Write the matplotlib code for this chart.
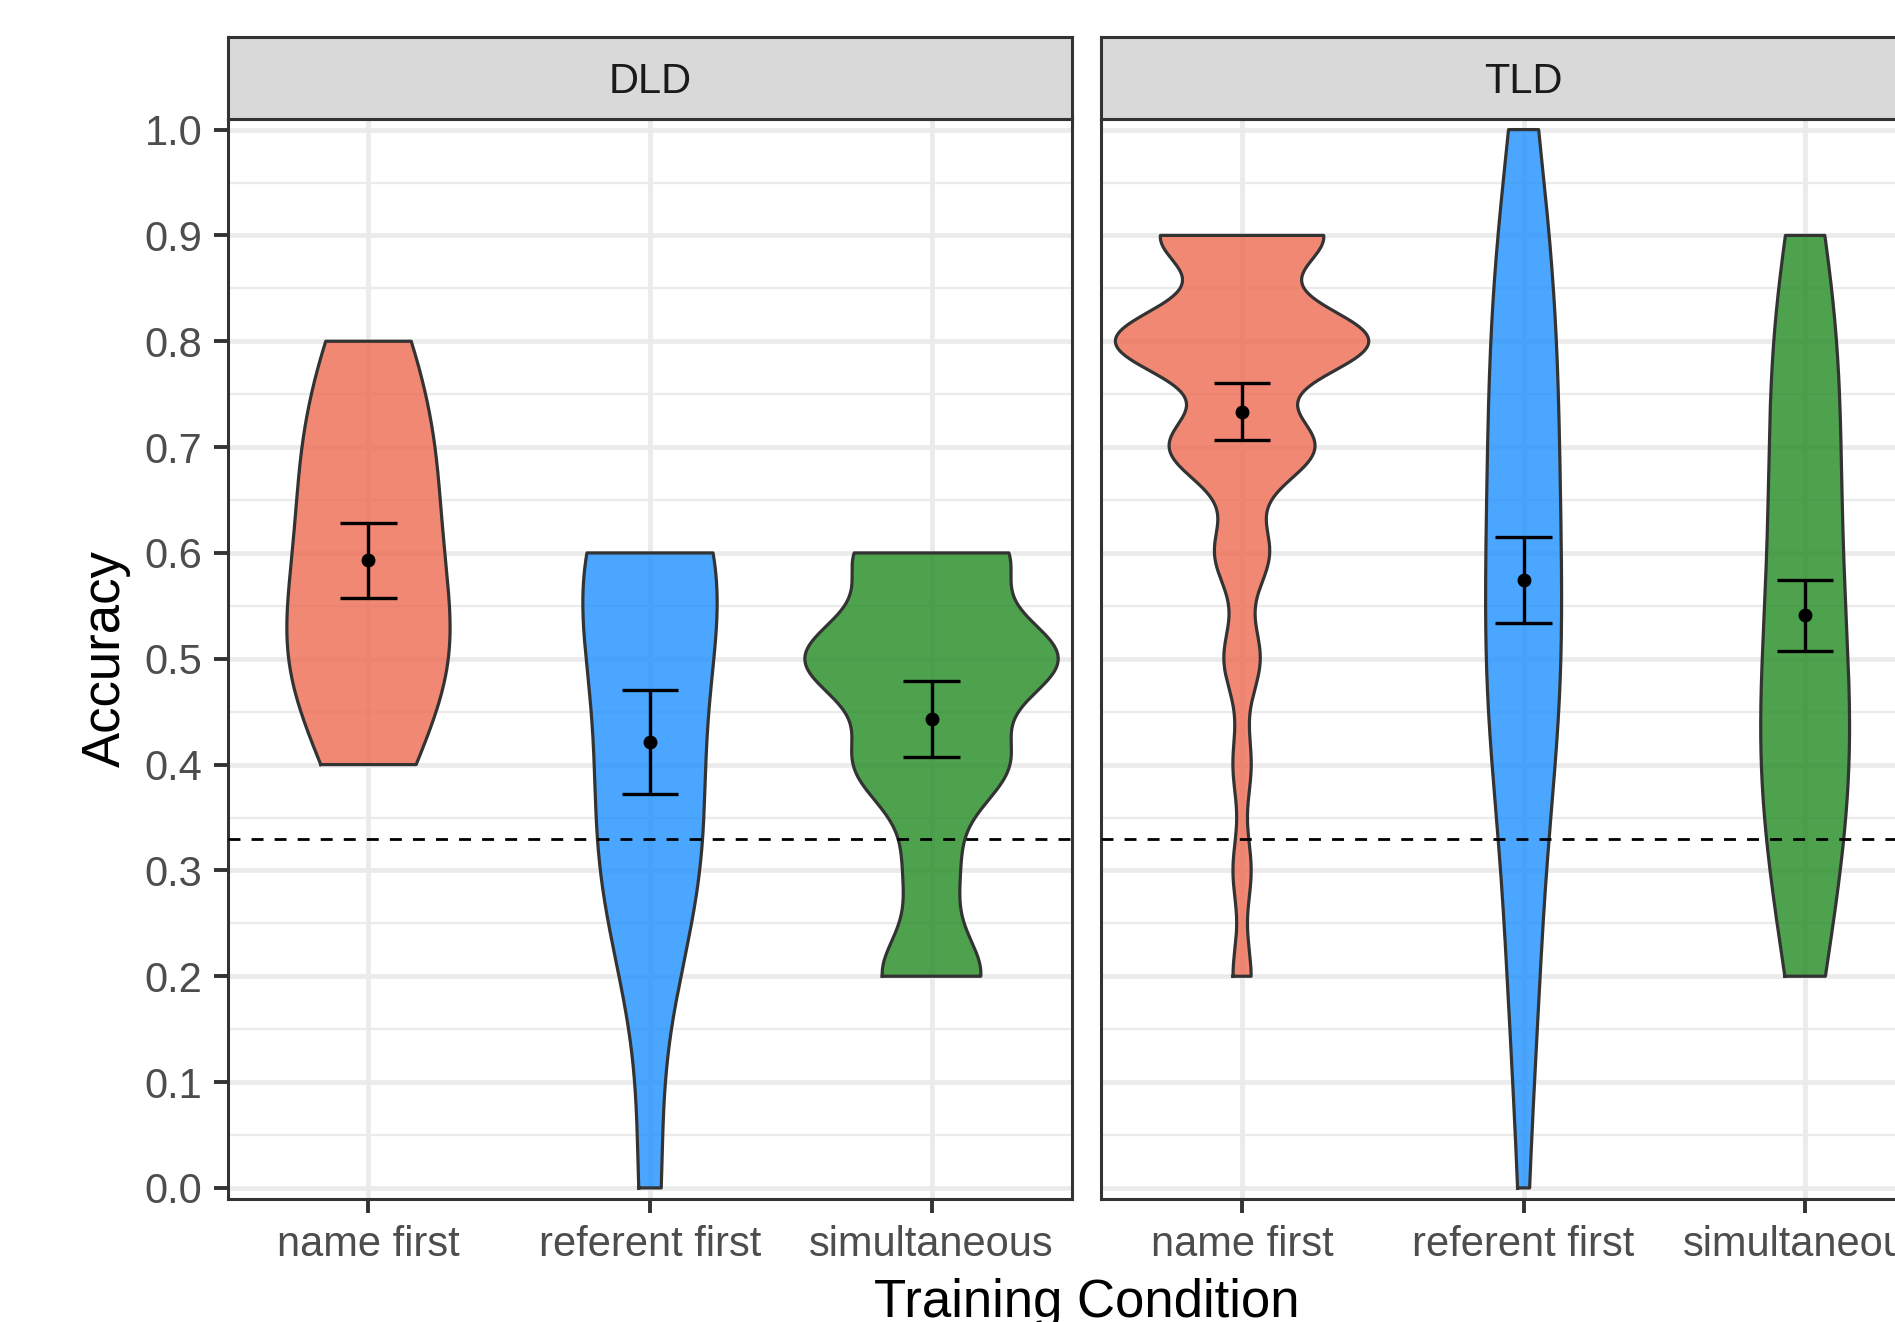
"""Accuracy by training condition: violins with mean +/- SE, DLD and TLD panels."""

import numpy as np
import matplotlib
matplotlib.use("Agg")
import matplotlib.pyplot as plt

LEVELS = [0.0, 0.1, 0.2, 0.3, 0.4, 0.5, 0.6, 0.7, 0.8, 0.9, 1.0]
CONDITIONS = ["name first", "referent first", "simultaneous"]
GROUPS = ["DLD", "TLD"]

# children per accuracy level (one entry per value in LEVELS)
DLD_NAME_FIRST = [0, 0, 0, 0, 2, 4, 3, 3, 2, 0, 0]
DLD_REFERENT_FIRST = [1, 0, 1, 3, 2, 2, 5, 0, 0, 0, 0]
DLD_SIMULTANEOUS = [0, 0, 2, 1, 3, 5, 3, 0, 0, 0, 0]
TLD_NAME_FIRST = [0, 0, 1, 1, 1, 2, 3, 8, 14, 9, 0]
TLD_REFERENT_FIRST = [1, 1, 3, 2, 5, 6, 5, 5, 5, 4, 2]
TLD_SIMULTANEOUS = [0, 0, 3, 5, 7, 6, 5, 5, 5, 3, 0]

COUNTS = {
    "DLD": [DLD_NAME_FIRST, DLD_REFERENT_FIRST, DLD_SIMULTANEOUS],
    "TLD": [TLD_NAME_FIRST, TLD_REFERENT_FIRST, TLD_SIMULTANEOUS],
}

CHANCE = 0.33
Y_TICKS = [0.0, 0.1, 0.2, 0.3, 0.4, 0.5, 0.6, 0.7, 0.8, 0.9, 1.0]
Y_MINOR = [0.05, 0.15, 0.25, 0.35, 0.45, 0.55, 0.65, 0.75, 0.85, 0.95]

COLORS = {
    "name first": "#EE6A50",
    "referent first": "#1E90FF",
    "simultaneous": "#228B22",
}

W, H = 1895, 1322
PANEL_LEFT = [227.7, 1101.3]
PANEL_W = 844.6
PANEL_TOP = 119.0
PANEL_BOTTOM = 1198.5
STRIP_TOP = 36.7

FONT = ["Liberation Sans", "DejaVu Sans"]


def _nrd0(x: np.ndarray) -> float:
    hi = x.std(ddof=1)
    iqr = np.percentile(x, 75) - np.percentile(x, 25)
    lo = min(hi, iqr / 1.34)
    return 0.9 * lo * len(x) ** -0.2


def _density(x: np.ndarray):
    bw = _nrd0(x)
    grid = np.linspace(x.min(), x.max(), 512)
    z = (grid[:, None] - x[None, :]) / bw
    dens = np.exp(-0.5 * z**2).sum(axis=1) / (len(x) * bw * np.sqrt(2 * np.pi))
    return grid, dens


def _frac(left, top, width, height):
    return [left / W, (H - top - height) / H, width / W, height / H]


def _strip(fig, left, label):
    sax = fig.add_axes(_frac(left, STRIP_TOP, PANEL_W, PANEL_TOP - STRIP_TOP))
    sax.set_facecolor("#D9D9D9")
    sax.set_xticks([])
    sax.set_yticks([])
    for spine in sax.spines.values():
        spine.set_color("#333333")
        spine.set_linewidth(2.2)
    sax.text(0.5, 0.315, label, transform=sax.transAxes, ha="center", va="baseline",
             fontsize=30, color="#1A1A1A", family=FONT)


def _panel(fig, idx, group):
    left = PANEL_LEFT[idx]
    ax = fig.add_axes(_frac(left, PANEL_TOP, PANEL_W, PANEL_BOTTOM - PANEL_TOP))
    ax.set_xlim(0.5, 3.5)
    ax.set_ylim(-0.01, 1.01)
    ax.set_xticks([1, 2, 3])
    ax.set_xticklabels(CONDITIONS, family=FONT)
    ax.set_yticks(Y_TICKS)
    ax.set_yticks(Y_MINOR, minor=True)
    ax.set_yticklabels([f"{v:.1f}" for v in Y_TICKS], family=FONT)
    ax.set_axisbelow(True)
    ax.grid(which="major", color="#EBEBEB", linewidth=3.4)
    ax.grid(which="minor", axis="y", color="#EBEBEB", linewidth=1.65)
    ax.tick_params(which="major", length=9.9, width=2.8, color="#333333",
                   labelsize=30, labelcolor="#4D4D4D")
    ax.tick_params(axis="x", pad=9.5)
    ax.tick_params(axis="y", pad=8.5)
    ax.tick_params(which="minor", length=0)
    if idx > 0:
        ax.tick_params(axis="y", left=False, labelleft=False)
    for spine in ax.spines.values():
        spine.set_color("#333333")
        spine.set_linewidth(2.2)

    samples = [np.repeat(LEVELS, c) for c in COUNTS[group]]
    dens = [_density(s) for s in samples]
    peak = max(d.max() for _, d in dens)
    for pos, (cond, s, (grid, d)) in enumerate(zip(CONDITIONS, samples, dens), start=1):
        half = 0.45 * d / peak
        ax.fill_betweenx(grid, pos - half, pos + half, facecolor=COLORS[cond],
                         alpha=0.8, edgecolor="none", zorder=2)
        xs = np.concatenate([pos - half, (pos + half)[::-1], [pos - half[0]]])
        ys = np.concatenate([grid, grid[::-1], [grid[0]]])
        ax.plot(xs, ys, color="#333333", linewidth=2.3, zorder=2.5)

    ax.axhline(CHANCE, color="black", linewidth=2.0, linestyle=(0, (4.3, 4.0)), zorder=3)

    for pos, s in enumerate(samples, start=1):
        mean = s.mean()
        se = s.std(ddof=1) / np.sqrt(len(s))
        ax.vlines(pos, mean - se, mean + se, color="black", linewidth=2.4, zorder=4)
        ax.hlines([mean - se, mean + se], pos - 0.1, pos + 0.1, color="black",
                  linewidth=2.4, zorder=4)
        ax.plot([pos], [mean], marker="o", markersize=9, color="black", zorder=5)

    _strip(fig, left, group)
    return ax


def main() -> int:
    fig = plt.figure(figsize=(W / 100, H / 100), dpi=100)
    for idx, group in enumerate(GROUPS):
        _panel(fig, idx, group)
    fig.text(0.5736, 5.5 / H, "Training Condition", ha="center", va="baseline",
             fontsize=38, color="black", family=FONT)
    fig.text(105.5 / W, 1 - (PANEL_TOP + PANEL_BOTTOM) / 2 / H, "Accuracy", rotation=90,
             ha="center", va="center", fontsize=38, color="black", family=FONT)
    fig.savefig("out.png", dpi=100)
    plt.close(fig)
    return 0


if __name__ == "__main__":
    raise SystemExit(main())
